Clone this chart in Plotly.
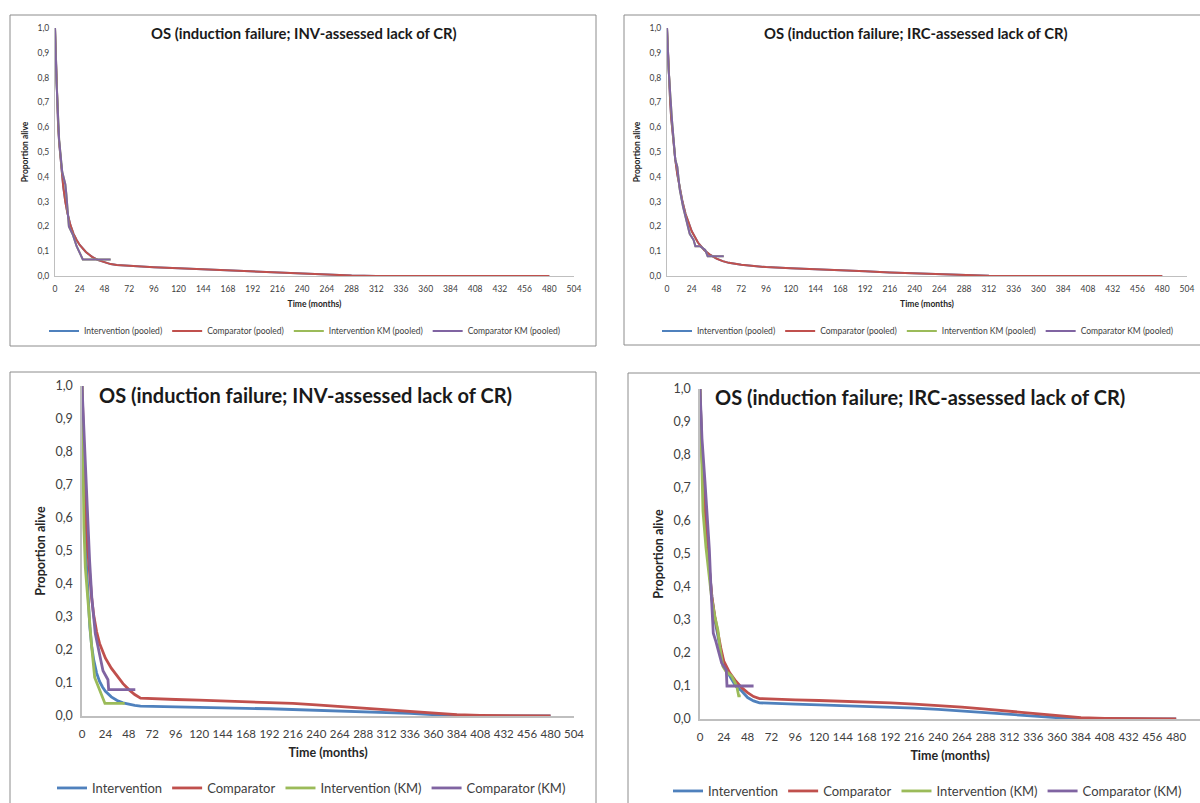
import plotly.graph_objects as go

# ---------------------------------------------------------------------------
# Data (months, proportion alive)
# ---------------------------------------------------------------------------
months_fit = [0, 1, 2, 3, 4, 6, 8, 10, 12, 15, 18, 21, 24, 30, 36, 42, 48, 54, 60,
              72, 96, 120, 144, 168, 192, 216, 240, 264, 288, 312, 336, 360, 384,
              408, 432, 456, 480]

# Panel 1: INV-assessed, pooled
inv_pooled_fit = [1.0, 0.85, 0.72, 0.61, 0.54, 0.44, 0.36, 0.30, 0.255, 0.205, 0.17, 0.145,
                  0.125, 0.097, 0.077, 0.064, 0.055, 0.048, 0.044, 0.040, 0.035, 0.031,
                  0.027, 0.023, 0.018, 0.013, 0.009, 0.005, 0.002, 0.0005, 0.0, 0.0, 0.0,
                  0.0, 0.0, 0.0, 0.0]
inv_pooled_km_t = [0, 1.5, 4, 7, 10, 11, 13.5, 17.5, 21, 22.5, 27, 54]
inv_pooled_km_s = [1.0, 0.78, 0.55, 0.42, 0.37, 0.33, 0.20, 0.165, 0.12, 0.105, 0.067, 0.067]

# Panel 2: IRC-assessed, pooled
irc_pooled_fit = [1.0, 0.88, 0.79, 0.71, 0.64, 0.54, 0.47, 0.41, 0.36, 0.30, 0.25, 0.21,
                  0.18, 0.135, 0.105, 0.085, 0.07, 0.06, 0.053, 0.045, 0.036, 0.031,
                  0.028, 0.024, 0.019, 0.014, 0.010, 0.006, 0.003, 0.001, 0.0, 0.0, 0.0,
                  0.0, 0.0, 0.0, 0.0]
irc_pooled_km_t = [0, 1.6, 4.8, 8, 10, 12.3, 15.5, 18.7, 22, 25.8, 27.5, 32, 37, 39.4, 55]
irc_pooled_km_s = [1.0, 0.83, 0.63, 0.47, 0.44, 0.35, 0.28, 0.225, 0.17, 0.145, 0.12, 0.12,
                   0.105, 0.08, 0.08]

# Panel 3: INV-assessed, by arm
inv_int_fit = [1.0, 0.83, 0.69, 0.58, 0.49, 0.36, 0.27, 0.21, 0.17, 0.13, 0.105, 0.088,
               0.075, 0.058, 0.047, 0.04, 0.035, 0.032, 0.030, 0.029, 0.028, 0.026,
               0.025, 0.023, 0.022, 0.020, 0.018, 0.016, 0.014, 0.011, 0.008, 0.004,
               0.0015, 0.0005, 0.0, 0.0, 0.0]
inv_comp_fit = [1.0, 0.88, 0.77, 0.68, 0.61, 0.50, 0.42, 0.355, 0.305, 0.255, 0.22, 0.195,
                0.175, 0.145, 0.12, 0.098, 0.08, 0.065, 0.054, 0.052, 0.050, 0.048, 0.046,
                0.044, 0.041, 0.038, 0.034, 0.029, 0.024, 0.018, 0.012, 0.007, 0.004,
                0.002, 0.001, 0.0003, 0.0]
inv_int_km_t = [0, 0.5, 2, 3.4, 6.8, 9.6, 13, 23.5, 43.7]
inv_int_km_s = [1.0, 0.85, 0.57, 0.45, 0.31, 0.22, 0.117, 0.038, 0.038]
inv_comp_km_t = [0, 4, 7.8, 10, 13.6, 21.5, 26.6, 27.3, 54.6]
inv_comp_km_s = [1.0, 0.72, 0.47, 0.36, 0.25, 0.137, 0.11, 0.08, 0.08]

# Panel 4: IRC-assessed, by arm
irc_int_fit = [1.0, 0.88, 0.80, 0.73, 0.67, 0.58, 0.50, 0.43, 0.37, 0.30, 0.25, 0.205,
               0.17, 0.13, 0.10, 0.085, 0.065, 0.055, 0.049, 0.047, 0.045, 0.043,
               0.041, 0.039, 0.036, 0.033, 0.029, 0.024, 0.019, 0.013, 0.008, 0.004,
               0.0015, 0.0005, 0.0, 0.0, 0.0]
irc_comp_fit = [1.0, 0.88, 0.80, 0.73, 0.67, 0.58, 0.50, 0.43, 0.37, 0.31, 0.26, 0.215,
                0.175, 0.14, 0.115, 0.095, 0.08, 0.068, 0.062, 0.060, 0.058, 0.056,
                0.054, 0.051, 0.049, 0.045, 0.041, 0.036, 0.030, 0.023, 0.016, 0.009,
                0.004, 0.002, 0.001, 0.0003, 0.0]
irc_int_km_t = [0, 1, 3, 6, 9, 12, 15, 18, 20, 23, 26, 32, 37, 39, 41]
irc_int_km_s = [1.0, 0.84, 0.63, 0.52, 0.43, 0.36, 0.31, 0.27, 0.22, 0.16, 0.145, 0.13,
                0.10, 0.07, 0.07]
irc_comp_km_t = [0, 2, 5, 9.4, 11, 13.4, 16, 21.8, 26.5, 27.2, 54]
irc_comp_km_s = [1.0, 0.85, 0.72, 0.515, 0.40, 0.26, 0.235, 0.17, 0.148, 0.10, 0.10]

titles = ["OS (induction failure; INV-assessed lack of CR)",
          "OS (induction failure; IRC-assessed lack of CR)",
          "OS (induction failure; INV-assessed lack of CR)",
          "OS (induction failure; IRC-assessed lack of CR)"]
x_ticks = list(range(0, 505, 24))
y_ticks = [i / 10 for i in range(11)]

BLUE, RED, GREEN, PURPLE = "#4F81BD", "#C0504D", "#9BBB59", "#8064A2"
FONT = "Lato"
W, H = 1200, 803


def px_x(v):
    return v / W


def px_y(v):
    return 1 - v / H


fig = go.Figure()

panels = [
    # (axis suffix, legend id, series list, line width)
    ("", "legend", [
        ("Intervention (pooled)", months_fit, inv_pooled_fit, BLUE),
        ("Comparator (pooled)", months_fit, inv_pooled_fit, RED),
        ("Intervention KM (pooled)", inv_pooled_km_t, inv_pooled_km_s, GREEN),
        ("Comparator KM (pooled)", inv_pooled_km_t, inv_pooled_km_s, PURPLE),
    ], 2),
    ("2", "legend2", [
        ("Intervention (pooled)", months_fit, irc_pooled_fit, BLUE),
        ("Comparator (pooled)", months_fit, irc_pooled_fit, RED),
        ("Intervention KM (pooled)", irc_pooled_km_t, irc_pooled_km_s, GREEN),
        ("Comparator KM (pooled)", irc_pooled_km_t, irc_pooled_km_s, PURPLE),
    ], 2),
    ("3", "legend3", [
        ("Intervention", months_fit, inv_int_fit, BLUE),
        ("Comparator", months_fit, inv_comp_fit, RED),
        ("Intervention (KM)", inv_int_km_t, inv_int_km_s, GREEN),
        ("Comparator (KM)", inv_comp_km_t, inv_comp_km_s, PURPLE),
    ], 2.8),
    ("4", "legend4", [
        ("Intervention", months_fit, irc_int_fit, BLUE),
        ("Comparator", months_fit, irc_comp_fit, RED),
        ("Intervention (KM)", irc_int_km_t, irc_int_km_s, GREEN),
        ("Comparator (KM)", irc_comp_km_t, irc_comp_km_s, PURPLE),
    ], 2.8),
]

for suffix, leg, series, lw in panels:
    for name, xs, ys, color in series:
        fig.add_trace(go.Scatter(
            x=xs, y=ys, mode="lines", name=name,
            line=dict(color=color, width=lw),
            xaxis="x" + suffix, yaxis="y" + suffix,
            legend=leg, hoverinfo="skip",
        ))

# Pixel geometry of each chart: (x of t=0, x of t=504, y of 1.0, y of 0.0)
geom = {
    "": (55, 574, 28, 276),
    "2": (667, 1187, 28, 276),
    "3": (82, 574, 386, 716),
    "4": (700, 1200, 389, 719),
}
small = dict(xtick=8.5, ytick=8.5, title=8.5, axis=1, xstand=7, ystand=7,
             xlen=5, ylen=3)
big = dict(xtick=11.5, ytick=12.5, title=12.5, axis=1.5, xstand=10, ystand=7,
           xlen=6, ylen=5)

layout = dict(
    width=W, height=H,
    margin=dict(l=0, r=0, t=0, b=0, autoexpand=False),
    paper_bgcolor="white", plot_bgcolor="white",
    separators=", ",
    font=dict(family=FONT, color="#404040"),
)

for suffix, (x0, x1, y1, y0) in geom.items():
    s = small if suffix in ("", "2") else big
    xa = "xaxis" + suffix
    ya = "yaxis" + suffix
    layout[xa] = dict(
        domain=[px_x(x0), min(px_x(x1), 1.0)], range=[0, 504],
        anchor="y" + suffix, tickmode="array", tickvals=x_ticks,
        tickangle=0, automargin=False,
        showline=True, linecolor="#BFBFBF", linewidth=s["axis"],
        showgrid=False, zeroline=False,
        ticks="outside", ticklen=s["xlen"], tickcolor="rgba(0,0,0,0)",
        tickfont=dict(size=s["xtick"], color="#404040", family=FONT),
        title=dict(text="<b>Time (months)</b>", standoff=s["xstand"],
                   font=dict(size=s["title"], color="#262626", family=FONT)),
        fixedrange=True,
    )
    layout[ya] = dict(
        domain=[px_y(y0), px_y(y1)], range=[0, 1.0],
        anchor="x" + suffix, tickmode="array", tickvals=y_ticks,
        tickformat=".1f", automargin=False,
        showline=True, linecolor="#BFBFBF", linewidth=s["axis"],
        showgrid=False, zeroline=False,
        ticks="outside", ticklen=s["ylen"], tickcolor="rgba(0,0,0,0)",
        tickfont=dict(size=s["ytick"], color="#404040", family=FONT),
        title=dict(text="<b>Proportion alive</b>", standoff=s["ystand"],
                   font=dict(size=s["title"], color="#262626", family=FONT)),
        fixedrange=True,
    )

legend_common = dict(orientation="h", xanchor="left", yanchor="middle",
                     bgcolor="rgba(0,0,0,0)", borderwidth=0, itemclick=False,
                     itemdoubleclick=False)
layout["legend"] = dict(legend_common, x=px_x(44), y=px_y(331),
                        font=dict(size=8.5, family=FONT, color="#404040"))
layout["legend2"] = dict(legend_common, x=px_x(657), y=px_y(331),
                         font=dict(size=8.5, family=FONT, color="#404040"))
layout["legend3"] = dict(legend_common, x=px_x(52), y=px_y(788),
                         font=dict(size=13, family=FONT, color="#404040"))
layout["legend4"] = dict(legend_common, x=px_x(668), y=px_y(791),
                         font=dict(size=13, family=FONT, color="#404040"))

# Chart titles
title_pos = [(304, 33, 14.8), (916, 33, 14.8), (305, 395, 20), (920, 397, 20)]
annotations = []
for text, (cx, cy, fs) in zip(titles, title_pos):
    annotations.append(dict(
        text="<b>" + text + "</b>", x=px_x(cx), y=px_y(cy),
        xref="paper", yref="paper", xanchor="center", yanchor="middle",
        showarrow=False, font=dict(size=fs, family=FONT, color="#1a1a1a"),
    ))
layout["annotations"] = annotations

# Chart-area frames
frames = [(10, 15, 596, 346), (624, 15, 1215, 345), (10, 372, 596, 815), (628, 373, 1215, 815)]
layout["shapes"] = [
    dict(type="rect", xref="paper", yref="paper",
         x0=px_x(a), x1=px_x(c), y0=px_y(d), y1=px_y(b),
         line=dict(color="#8C8C8C", width=1), fillcolor="rgba(0,0,0,0)", layer="below")
    for a, b, c, d in frames
]

fig.update_layout(**layout)
fig.write_html("out.html")
